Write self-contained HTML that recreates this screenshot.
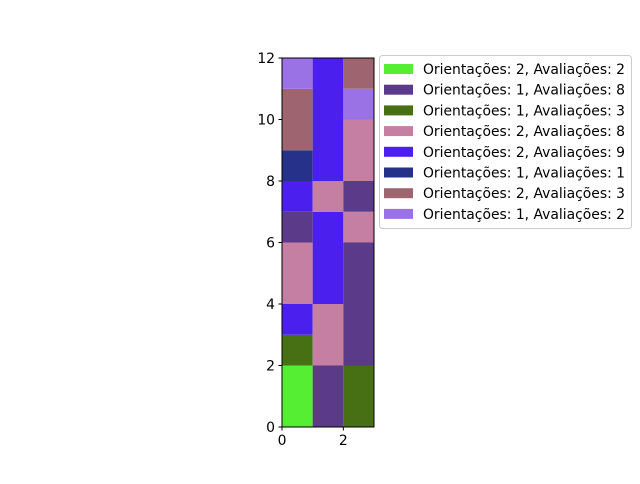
<!DOCTYPE html>
<html><head><meta charset="utf-8"><style>
body{margin:0;background:#fff;font-family:"DejaVu Sans","Liberation Sans",sans-serif;}
svg text{font-family:"DejaVu Sans","Liberation Sans",sans-serif;}
</style></head><body>
<svg id="chart" width="640" height="480" xmlns="http://www.w3.org/2000/svg"></svg>
<script>
const categories = [0, 1, 2];
const seriesLabels = ["Orientações: 2, Avaliações: 2","Orientações: 1, Avaliações: 8","Orientações: 1, Avaliações: 3","Orientações: 2, Avaliações: 8","Orientações: 2, Avaliações: 9","Orientações: 1, Avaliações: 1","Orientações: 2, Avaliações: 3","Orientações: 1, Avaliações: 2"];
const seriesColors = ["#55ee33","#5c3a8a","#476f14","#c47fa3","#4b1fee","#263289","#9e6470","#9b72e6"];
// segments per column: [seriesIndex, height] bottom to top
const col0 = [[0,2],[2,1],[4,1],[3,2],[1,1],[4,1],[5,1],[6,2],[7,1]];
const col1 = [[1,2],[3,2],[4,3],[3,1],[4,4]];
const col2 = [[2,2],[1,4],[3,1],[1,1],[3,2],[7,1],[6,1]];
const columns = [col0, col1, col2];
const yTicks = [0,2,4,6,8,10,12];
const xTicks = [0,2];

const svg = document.getElementById('chart');
const NS = "http://www.w3.org/2000/svg";
const X0=282, X1=374, Y0=427, Y1=58, XMAX=3, YMAX=12;
const xs = v => X0 + v*(X1-X0)/XMAX;
const ys = v => Y0 - v*(Y0-Y1)/YMAX;
function mk(tag, attrs, parent){const e=document.createElementNS(NS,tag);for(const k in attrs)e.setAttribute(k,attrs[k]);(parent||svg).appendChild(e);return e;}

columns.forEach((col, ci) => {
  let base = 0;
  col.forEach(([si, h], k) => {
    const r = mk('rect',{x:xs(categories[ci]),y:ys(base+h),width:xs(categories[ci]+1)-xs(categories[ci]),height:ys(base)-ys(base+h),fill:seriesColors[si]});
    
    
    base += h;
  });
});
const frame = mk('rect',{x:X0,y:Y1,width:X1-X0,height:Y0-Y1,fill:'none',stroke:'#000','stroke-width':1});



yTicks.forEach(t => {
  const y = ys(t);
  const l = mk('line',{x1:X0-3.5,x2:X0,y1:y,y2:y,stroke:'#000'});
  
  
  const tx = mk('text',{x:X0-7,y:y+5,'text-anchor':'end','font-size':13.9,fill:'#000'});
  tx.textContent = t;
  
  
});
xTicks.forEach(t => {
  const x = xs(t);
  const l = mk('line',{x1:x,x2:x,y1:Y0,y2:Y0+3.5,stroke:'#000'});
  
  
  const tx = mk('text',{x:x,y:Y0+18,'text-anchor':'middle','font-size':13.9,fill:'#000'});
  tx.textContent = t;
  
  
});

const lg = mk('g',{});


mk('rect',{x:379.5,y:55.5,width:252,height:173,rx:3,fill:'#fff',stroke:'#ccc'},lg);
seriesLabels.forEach((s, i) => {
  const y = 69 + i*20.7;
  const e = mk('g',{},lg);
  
  
  mk('rect',{x:384,y:y-5,width:29,height:10,fill:seriesColors[i]},e);
  const tx = mk('text',{x:423,y:y+5,'font-size':13.9,fill:'#000'},e);
  tx.textContent = s;
});
</script>
</body></html>
